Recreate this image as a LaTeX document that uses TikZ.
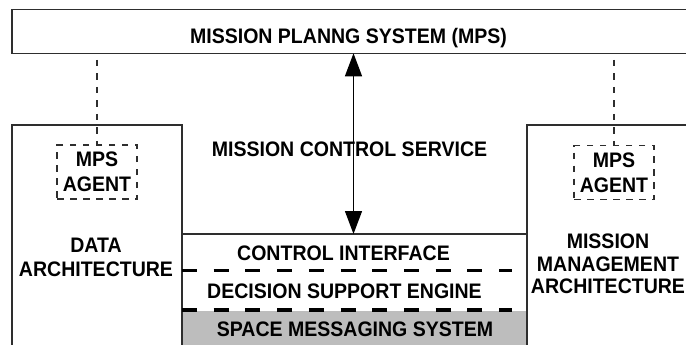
\documentclass[tikz,border=0pt]{standalone}
\usepackage{fontspec}
\setmainfont{Liberation Sans}
\newfontfamily\labelfont[FakeStretch=0.93]{Liberation Sans}
\usetikzlibrary{arrows.meta}

\definecolor{frame}{HTML}{2E2E2E}
\definecolor{stipple}{HTML}{BDBDBD}

\tikzset{
  x=1pt, y=-1pt,
  box/.style={draw=frame, line width=1.3pt, inner sep=0pt, outer sep=0pt},
  agentbox/.style={draw=frame, line width=1.2pt, dash pattern=on 6.5pt off 6.5pt,
    inner sep=0pt, outer sep=0pt, minimum width=80pt, minimum height=54pt,
    align=center, font=\labelfont\bfseries\fontsize{21}{25}\selectfont},
  lbl/.style={inner sep=0pt, outer sep=0pt, align=center,
    font=\labelfont\bfseries\fontsize{21}{24}\selectfont},
  agentlink/.style={draw=frame, line width=1.2pt, dash pattern=on 6.5pt off 7pt, dash phase=7pt},
  layerline/.style={draw=black, line width=3pt, dash pattern=on 15pt off 16.7pt},
  layerlinethick/.style={draw=black, line width=4pt, dash pattern=on 15pt off 16.7pt},
  service/.style={draw=black, line width=1.3pt,
    {Triangle[length=23pt,width=17pt]}-{Triangle[length=23pt,width=17pt]}}
}

\begin{document}
\begin{tikzpicture}
  \useasboundingbox (0,0) rectangle (686,345);
  \fill[white] (0,0) rectangle (686,345);

  % lowest layer of the core stack, stippled
  \fill[stipple] (182,311) rectangle (527,360);

  % outer frames
  \node[box, minimum width=688pt, minimum height=44pt] (mps) at (356,31.3) {};
  \node[box, minimum width=170pt, minimum height=235pt] (data) at (97,242.5) {};
  \node[box, minimum width=173pt, minimum height=235pt] (mgmt) at (613.5,242.5) {};
  \node[box, minimum width=345pt, minimum height=126pt] (core) at (354.5,297) {};

  % agents inside the side architectures
  \node[agentbox] (agentL) at (97,172) {MPS\\AGENT};
  \node[agentbox] (agentR) at (614,172.5) {MPS\\AGENT};

  % labels
  \node[lbl, anchor=base] (title) at (348.5,43.3) {MISSION PLANNG SYSTEM (MPS)};
  \node[lbl, anchor=base] (mcs) at (349.5,156.7) {MISSION CONTROL SERVICE};
  \node[lbl, anchor=north] (dataarch) at (96,238.5) {DATA\\ARCHITECTURE};
  \node[lbl, anchor=north, font=\labelfont\bfseries\fontsize{21}{22.6}\selectfont]
    (mma) at (608,234) {MISSION\\MANAGEMENT\\ARCHITECTURE};
  \node[lbl, anchor=base] (ci) at (343.5,260) {CONTROL INTERFACE};
  \node[lbl, anchor=base] (dse) at (344.5,298.3) {DECISION SUPPORT ENGINE};
  \node[lbl, anchor=base] (sms) at (355,336.5) {SPACE MESSAGING SYSTEM};

  % layer separators of the core stack
  \coordinate (sepA) at (182,270);
  \coordinate (sepAend) at (512,270);
  \coordinate (sepB) at (182,310);
  \coordinate (sepBend) at (512,310);
  \draw[layerline] (sepA) -- (sepAend);
  \draw[layerlinethick] (sepB) -- (sepBend);

  % links from the planning system to the agents
  \draw[agentlink] (mps.south -| agentL) -- (agentL.north);
  \draw[agentlink] (mps.south -| agentR) -- (agentR.north);

  % mission control service
  \coordinate (svc) at (353.5,0);
  \draw[service] (mps.south -| svc) -- (core.north -| svc);
\end{tikzpicture}
\end{document}
